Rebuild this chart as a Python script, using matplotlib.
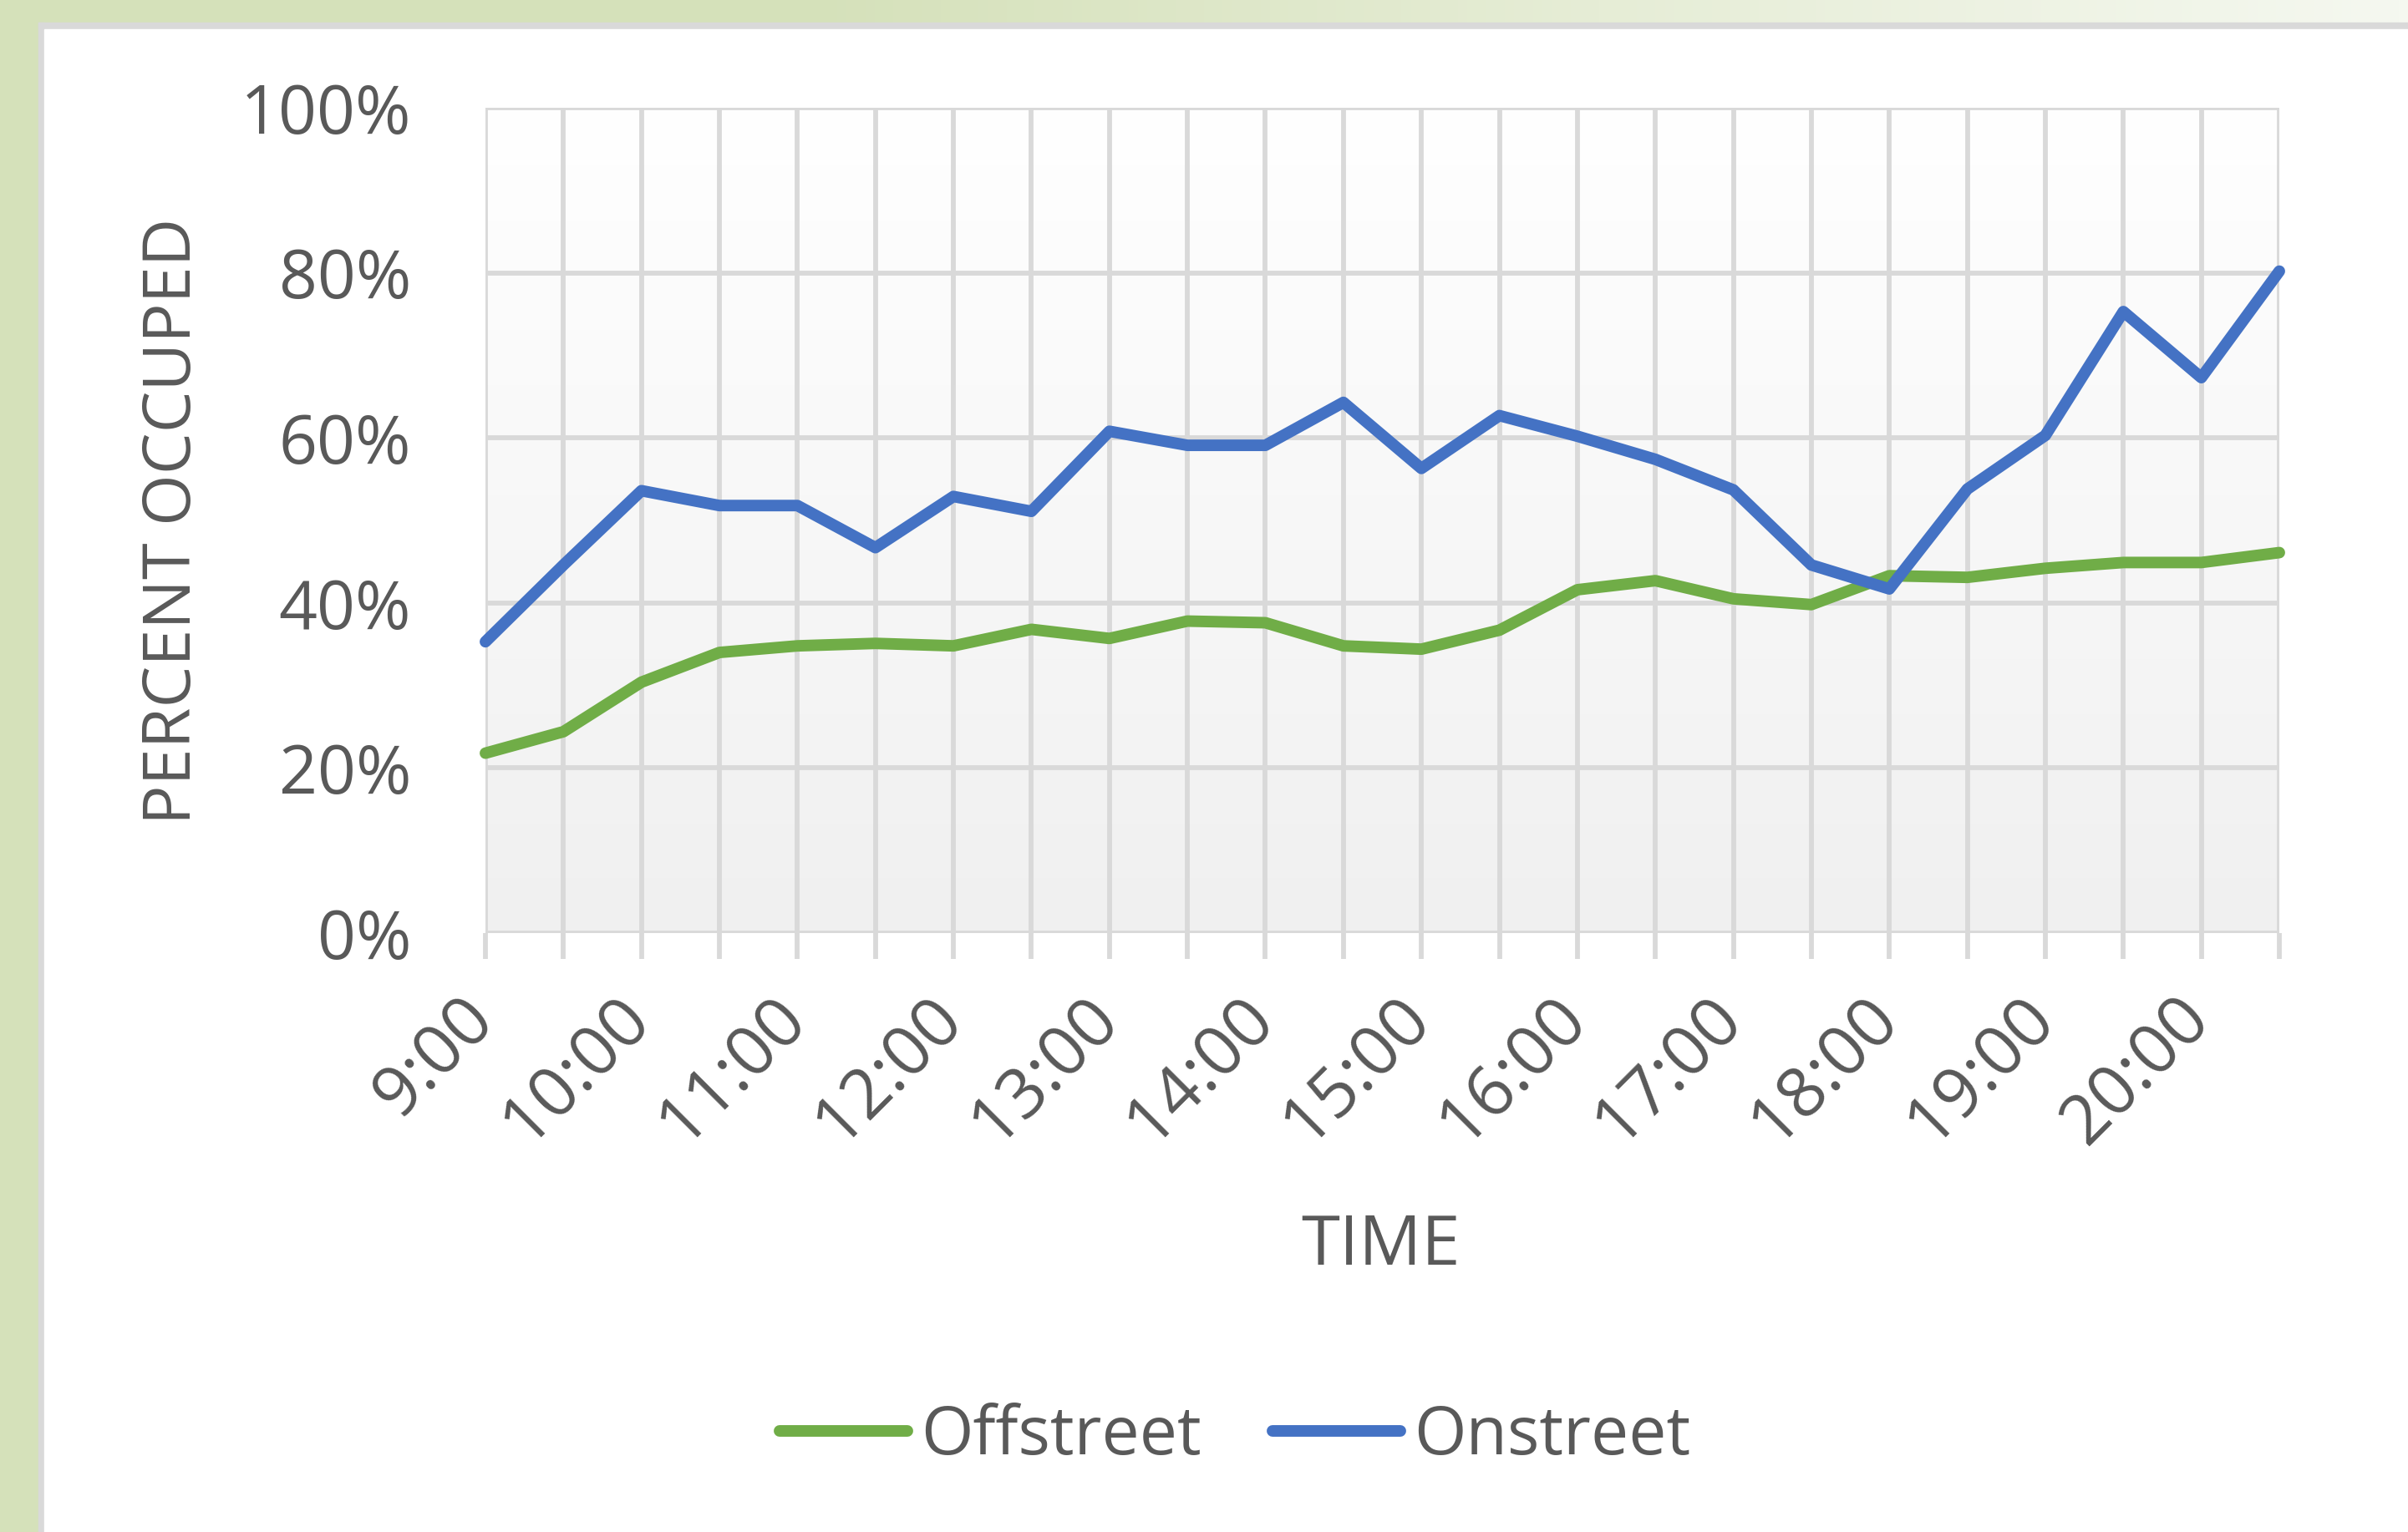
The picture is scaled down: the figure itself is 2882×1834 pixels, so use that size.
import numpy as np
import matplotlib
matplotlib.use("Agg")
import matplotlib.pyplot as plt
import matplotlib.transforms as mtransforms
from matplotlib.patches import Rectangle
from matplotlib.colors import LinearSegmentedColormap

# half-hour readings, 9:00 .. 20:30
times = ["9:00", "9:30", "10:00", "10:30", "11:00", "11:30", "12:00", "12:30",
         "13:00", "13:30", "14:00", "14:30", "15:00", "15:30", "16:00", "16:30",
         "17:00", "17:30", "18:00", "18:30", "19:00", "19:30", "20:00", "20:30"]
offstreet = [0.218, 0.244, 0.304, 0.340, 0.348, 0.351, 0.348, 0.368, 0.357, 0.378,
             0.376, 0.348, 0.344, 0.367, 0.416, 0.427, 0.405, 0.398, 0.433, 0.431,
             0.442, 0.449, 0.449, 0.461]
onstreet = [0.353, 0.446, 0.536, 0.518, 0.518, 0.467, 0.529, 0.511, 0.608, 0.591,
            0.591, 0.643, 0.563, 0.627, 0.602, 0.574, 0.537, 0.446, 0.417, 0.538,
            0.603, 0.753, 0.673, 0.802]
yticks = [0, 0.2, 0.4, 0.6, 0.8, 1.0]

GREEN = "#70ad47"
BLUE = "#4472c4"
TEXT = "#595959"
GRID = "#d9d9d9"

plt.rcParams["font.family"] = ["Open Sans", "DejaVu Sans"]

W, H = 2882, 1834
fig = plt.figure(figsize=(W / 100, H / 100), dpi=100)
fig.patch.set_facecolor("white")

# slide background: green strip on the left, fading band on top, grey shadow edge
bg = fig.add_axes([0, 0, 1, 1], zorder=-10)
bg.set_xlim(0, W); bg.set_ylim(H, 0); bg.axis("off")
band = np.linspace(0, 1, 256)[None, :]
band_cmap = LinearSegmentedColormap.from_list("band", ["#d5e1ba", "#d5e1ba", "#e6edd6", "#f5f8f0"])
bg.imshow(band, extent=[0, W, 35, 0], cmap=band_cmap, aspect="auto")
bg.add_patch(Rectangle((0, 0), 46, H, color="#d5e1ba"))
bg.add_patch(Rectangle((46, 27), 7, H, color="#d9d9d9"))
bg.add_patch(Rectangle((46, 27), W, 8, color="#d9d9d9"))
bg.add_patch(Rectangle((53, 35), W, H, color="white"))

ax = fig.add_axes([581 / W, 1 - 1117 / H, (2728 - 581) / W, (1117 - 129) / H])
x = np.arange(len(times))
ax.set_xlim(0, len(times) - 1)
ax.set_ylim(0, 1)

# plot area gradient, white at the top to light grey at the bottom
grad = np.linspace(0, 1, 256)[:, None]
ax.imshow(grad, extent=[0, len(times) - 1, 0, 1], origin="upper",
          cmap=LinearSegmentedColormap.from_list("g", ["#ffffff", "#f0f0f0"]),
          aspect="auto", zorder=0)

ax.plot(x, offstreet, color=GREEN, lw=10, solid_joinstyle="round", solid_capstyle="round",
        label="Offstreet", zorder=3, clip_on=False)
ax.plot(x, onstreet, color=BLUE, lw=10, solid_joinstyle="round", solid_capstyle="round",
        label="Onstreet", zorder=4, clip_on=False)

ax.set_xticks(x)
ax.set_xticklabels([])
# hour labels, rotated; Excel puts the label end slightly right of the tick
lab_tr = ax.get_xaxis_transform() + mtransforms.ScaledTranslation(27 / 100, -61 / 100, fig.dpi_scale_trans)
for i, t in enumerate(times):
    if i % 2 == 0:
        ax.text(x[i], 0, t, transform=lab_tr, rotation=45, ha="right", va="top",
                fontsize=60, color=TEXT)
ax.set_yticks(yticks)
ax.set_yticklabels([f"{int(v * 100)}%" for v in yticks], fontsize=58, color=TEXT)
ax.tick_params(axis="x", length=22, width=4.2, color=GRID)
ax.tick_params(axis="y", length=0, pad=64)
ax.grid(True, color=GRID, lw=4.2, zorder=1)
ax.set_axisbelow(True)
for s in ax.spines.values():
    s.set_visible(False)

fig.text(208 / W, 1 - 624 / H, "PERCENT OCCUPED", rotation=90, ha="center", va="center",
         fontsize=57, color=TEXT)
fig.text(1652 / W, 1 - 1493 / H, "TIME", ha="center", va="center", fontsize=60, color=TEXT)

fig.legend(loc="center", bbox_to_anchor=(1478 / W, 1 - 1720 / H), ncol=2, frameon=False,
           fontsize=58, labelcolor=TEXT, handlelength=1.9, handletextpad=0.2, columnspacing=1.05)

fig.savefig("out.png", dpi=100)
